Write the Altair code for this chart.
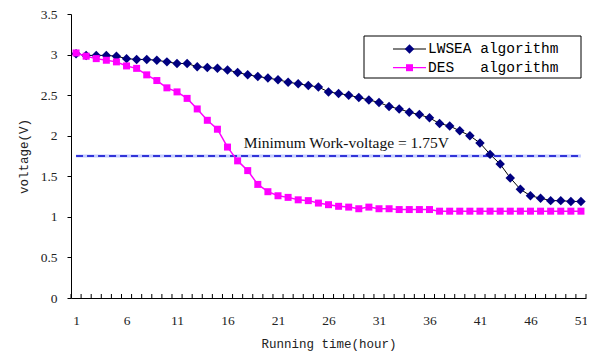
import altair as alt
import pandas as pd

# ---------------- data ----------------
hours = list(range(1, 52))
lwsea = [3.01, 2.99, 2.99, 2.99, 2.98, 2.95, 2.94, 2.94, 2.93, 2.91,
         2.89, 2.89, 2.85, 2.84, 2.83, 2.81, 2.78, 2.75, 2.73, 2.71,
         2.69, 2.66, 2.64, 2.62, 2.60, 2.54, 2.52, 2.50, 2.47, 2.44,
         2.41, 2.36, 2.33, 2.29, 2.26, 2.22, 2.15, 2.12, 2.06, 2.00,
         1.91, 1.77, 1.65, 1.48, 1.34, 1.26, 1.23, 1.20, 1.20, 1.19, 1.19]
des = [3.02, 2.98, 2.95, 2.93, 2.91, 2.86, 2.83, 2.75, 2.68, 2.59,
       2.54, 2.46, 2.33, 2.19, 2.08, 1.86, 1.69, 1.57, 1.40, 1.31,
       1.26, 1.24, 1.21, 1.20, 1.17, 1.15, 1.13, 1.12, 1.10, 1.12,
       1.10, 1.10, 1.09, 1.09, 1.09, 1.09,
       1.07, 1.07, 1.07, 1.07, 1.07, 1.07, 1.07, 1.07, 1.07, 1.07,
       1.07, 1.07, 1.07, 1.07, 1.07]
legend_labels = ["LWSEA\u00a0algorithm", "DES\u00a0\u00a0\u00a0algorithm"]
min_voltage = 1.75
annotation = "Minimum Work-voltage = 1.75V"
x_labels = list(range(1, 52, 5))
y_labels = [0, 0.5, 1, 1.5, 2, 2.5, 3, 3.5]
tick_bounds = [h - 0.5 for h in hours] + [hours[-1] + 0.5]

# ---------------- layout / style ----------------
W, H = 515, 284
NAVY = "#000080"
MAGENTA = "#FF00FF"
MONO = "Liberation Mono"
SERIF = "Liberation Serif"

xs = alt.Scale(domain=[0.5, 51.5], nice=False, zero=False)
ys = alt.Scale(domain=[0, 3.5], nice=False)

df_l = pd.DataFrame({"hour": hours, "v": lwsea})
df_d = pd.DataFrame({"hour": hours, "v": des})
df_min = pd.DataFrame({"hour": [hours[0], hours[-1]], "v": [min_voltage, min_voltage]})
df_ticks = pd.DataFrame({"b": tick_bounds})
one = pd.DataFrame({"k": [0]})

x_axis = alt.Axis(values=x_labels, title="Running time(hour)", ticks=False,
                  labelPadding=15, format="d", titleY=39, titleBaseline="top",
                  domainColor="black", domainWidth=1)
y_axis = alt.Axis(values=y_labels, title="voltage(V)", tickSize=4, labelPadding=10,
                  format=".1~f", titleX=-41, titleY=H / 2, titleFont=MONO,
                  domainColor="black", tickColor="black", domainWidth=1)

X = alt.X("hour:Q", scale=xs, axis=x_axis)
Y = alt.Y("v:Q", scale=ys, axis=y_axis)

# inward ticks of x axis
ticks = alt.Chart(df_ticks).mark_rule(color="black", strokeWidth=1).encode(
    x=alt.X("b:Q", scale=xs), y=alt.value(H), y2=alt.value(H - 4))

# minimum voltage line
min_halo = alt.Chart(df_min).mark_line(color="#C4CCFF", strokeWidth=3).encode(x=X, y=Y)
min_line = alt.Chart(df_min).mark_line(color="#0000CC", strokeWidth=1.3,
                                       strokeDash=[7, 4]).encode(x=X, y=Y)
ann = alt.Chart(one).mark_text(text=annotation, font=SERIF, fontSize=15.5,
                               align="left", baseline="alphabetic", color="#111").encode(
    x=alt.datum(17.6, scale=xs), y=alt.datum(1.846, scale=ys))

l_line = alt.Chart(df_l).mark_line(color="black", strokeWidth=1).encode(x=X, y=Y)
l_pts = alt.Chart(df_l).mark_point(shape="diamond", filled=True, color=NAVY, size=90,
                                   opacity=1).encode(x=X, y=Y)
d_line = alt.Chart(df_d).mark_line(color=MAGENTA, strokeWidth=1.5).encode(x=X, y=Y)
d_pts = alt.Chart(df_d).mark_point(shape="square", filled=True, color=MAGENTA, size=49,
                                   opacity=1).encode(x=X, y=Y)

# legend (drawn by hand)
box = alt.Chart(one).mark_rect(fill="white", stroke="black", strokeWidth=1).encode(
    x=alt.value(293), x2=alt.value(510), y=alt.value(22), y2=alt.value(64))
leg_rows = [(35, "black", NAVY, "diamond", 90, legend_labels[0]),
            (53.7, MAGENTA, MAGENTA, "square", 49, legend_labels[1])]
leg_layers = [box]
for yy, lc, pc, shp, sz, lab in leg_rows:
    leg_layers.append(alt.Chart(one).mark_rule(color=lc, strokeWidth=1.2).encode(
        x=alt.value(322), x2=alt.value(355), y=alt.value(yy)))
    leg_layers.append(alt.Chart(one).mark_point(shape=shp, filled=True, color=pc, size=sz,
                                                opacity=1).encode(
        x=alt.value(338.5), y=alt.value(yy)))
    leg_layers.append(alt.Chart(one).mark_text(text=lab, font=MONO, fontSize=14.5,
                                               align="left", baseline="middle",
                                               color="black").encode(
        x=alt.value(357), y=alt.value(yy)))

chart = alt.layer(ticks, min_halo, min_line, ann, l_line, l_pts, d_line, d_pts,
                  *leg_layers).properties(
    width=W, height=H,
    autosize=alt.AutoSizeParams(type="none"),
    padding={"left": 63, "top": 6, "right": 1, "bottom": 53},
    background="white",
).configure_view(stroke=None).configure_axis(
    grid=False, labelFont=SERIF, labelFontSize=13.5, labelColor="#222",
    titleFont=MONO, titleFontSize=12.5, titleFontWeight="normal", titleColor="#222",
)

chart.save("out.html", embed_options={"renderer": "svg", "actions": False})
